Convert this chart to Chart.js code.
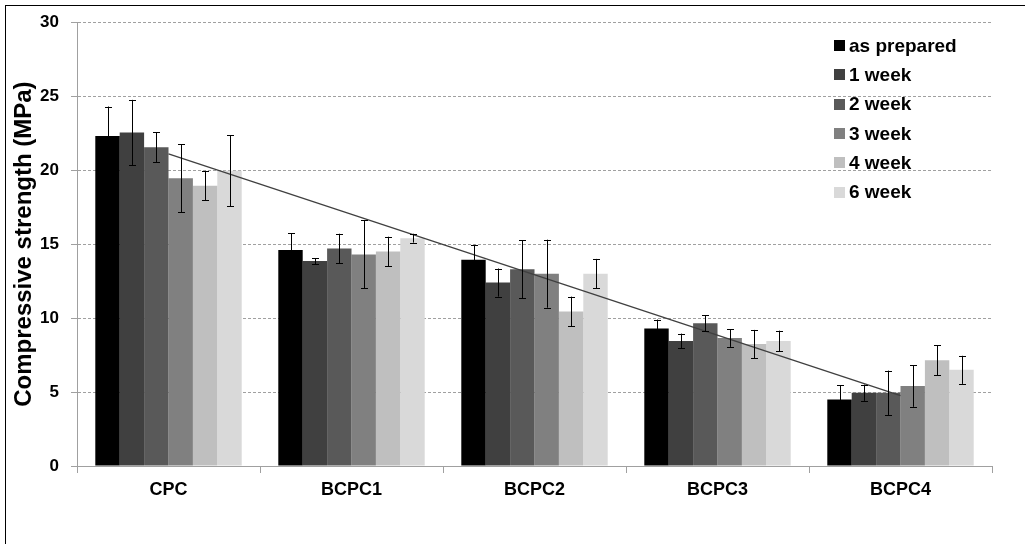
<!DOCTYPE html>
<html>
<head>
<meta charset="utf-8">
<script src="https://cdn.jsdelivr.net/npm/chart.js@4.4.1/dist/chart.umd.min.js"></script>
<style>
    body { margin: 0; background: #fff; }
    #wrap { position: relative; width: 1025px; height: 544px; overflow: hidden; }
    #frame { position: absolute; left: 5px; top: 5px; right: -2px; bottom: -2px;
             border-left: 1px solid #000; border-top: 1px solid #000; pointer-events: none; }
    #legend { position: absolute; left: 834px; top: 31px; font-family: 'Liberation Sans', Arial, sans-serif;
              font-weight: bold; font-size: 19px; color: #000; }
    .legend-item { display: flex; align-items: center; height: 29.3px; }
    .legend-color-box { width: 11px; height: 11px; margin-right: 4px; }
</style>
</head>
<body>
<div id="wrap">
    <canvas id="strengthChart" width="1025" height="544"></canvas>
    <div id="frame"></div>
    <div id="legend"></div>
</div>
<script>
const categories = ['CPC', 'BCPC1', 'BCPC2', 'BCPC3', 'BCPC4'];
const seriesNames = ['as prepared', '1 week', '2 week', '3 week', '4 week', '6 week'];
const seriesColors = ['#000000', '#404040', '#595959', '#808080', '#bfbfbf', '#d9d9d9'];

const asPrepared = [22.3, 14.6, 13.95, 9.3, 4.5];
const week1 = [22.55, 13.85, 12.4, 8.45, 4.95];
const week2 = [21.55, 14.7, 13.3, 9.65, 4.95];
const week3 = [19.45, 14.3, 13.0, 8.65, 5.4];
const week4 = [18.95, 14.5, 10.45, 8.25, 7.15];
const week6 = [19.95, 15.4, 13.0, 8.45, 6.5];

const errAsPrepared = [2.0, 1.15, 1.0, 0.6, 0.95];
const errWeek1 = [2.2, 0.2, 0.95, 0.5, 0.55];
const errWeek2 = [1.0, 1.0, 1.95, 0.55, 1.5];
const errWeek3 = [2.3, 2.3, 2.3, 0.6, 1.4];
const errWeek4 = [1.0, 1.0, 1.0, 0.95, 1.0];
const errWeek6 = [2.4, 0.3, 1.0, 0.7, 0.95];

// linear trend line, drawn from CPC to BCPC4
const trendLine = [21.1, null, null, null, 4.75];

const yTicks = [0, 5, 10, 15, 20, 25, 30];

const seriesValues = [asPrepared, week1, week2, week3, week4, week6];
const seriesErrors = [errAsPrepared, errWeek1, errWeek2, errWeek3, errWeek4, errWeek6];

Chart.defaults.font.family = "'Liberation Sans', Arial, sans-serif";
Chart.defaults.color = '#000';

// error bars drawn through the y scale
const errorBars = {
    id: 'errorBars',
    afterDatasetsDraw(chart) {
        const ctx = chart.ctx;
        const yScale = chart.scales.y;
        chart.data.datasets.forEach((ds, i) => {
            if (!ds.errors) return;
            const meta = chart.getDatasetMeta(i);
            meta.data.forEach((bar, j) => {
                const v = ds.data[j];
                const e = ds.errors[j];
                const yTop = yScale.getPixelForValue(v + e);
                const yBot = yScale.getPixelForValue(v - e);
                const x = Math.round(bar.x) + 0.5;
                ctx.save();
                ctx.strokeStyle = '#000';
                ctx.lineWidth = 1;
                ctx.beginPath();
                ctx.moveTo(x, yTop);
                ctx.lineTo(x, yBot);
                ctx.moveTo(x - 3.5, Math.round(yTop) + 0.5);
                ctx.lineTo(x + 3.5, Math.round(yTop) + 0.5);
                ctx.moveTo(x - 3.5, Math.round(yBot) + 0.5);
                ctx.lineTo(x + 3.5, Math.round(yBot) + 0.5);
                ctx.stroke();
                ctx.restore();
            });
        });
    }
};

const barDatasets = seriesNames.map((name, i) => ({
    type: 'bar',
    label: name,
    data: seriesValues[i],
    errors: seriesErrors[i],
    backgroundColor: seriesColors[i],
    borderWidth: 0,
    categoryPercentage: 0.8,
    barPercentage: 1.0,
    order: 1
}));

const strengthChart = new Chart(document.getElementById('strengthChart'), {
    type: 'bar',
    data: {
        labels: categories,
        datasets: [{
            type: 'line',
            label: 'trend',
            data: trendLine,
            borderColor: '#404040',
            borderWidth: 1.3,
            pointRadius: 0,
            spanGaps: true,
            fill: false,
            order: 0
        }].concat(barDatasets)
    },
    options: {
        responsive: false,
        animation: false,
        devicePixelRatio: 1,
        layout: { padding: { left: 0, top: 17, right: 33, bottom: 0 } },
        plugins: {
            legend: { display: false },
            tooltip: { enabled: false }
        },
        scales: {
            x: {
                grid: { offset: true, drawOnChartArea: false, drawTicks: true, tickLength: 7, color: '#a0a0a0' },
                border: { color: '#a0a0a0', width: 1 },
                ticks: { font: { size: 18, weight: 'bold' }, padding: 6 },
                afterFit(scale) { scale.height = 78; }
            },
            y: {
                min: 0,
                max: 30,
                afterBuildTicks(scale) { scale.ticks = yTicks.map(v => ({ value: v })); },
                grid: { color: '#a0a0a0', tickLength: 6, tickBorderDash: [], tickColor: '#a0a0a0' },
                border: { color: '#a0a0a0', width: 1, dash: [3, 2] },
                ticks: { font: { size: 17, weight: 'bold' }, padding: 12 },
                title: {
                    display: true,
                    text: 'Compressive strength (MPa)',
                    font: { size: 24, weight: 'bold' },
                    padding: { top: 10, bottom: 0 }
                },
                afterFit(scale) { scale.width = 77; }
            }
        }
    },
    plugins: [errorBars]
});

// custom legend
const legendContainer = document.getElementById('legend');
seriesNames.forEach((label, index) => {
    const legendItem = document.createElement('div');
    legendItem.className = 'legend-item';
    legendItem.innerHTML = `
        <div class="legend-color-box" style="background-color:${seriesColors[index]}"></div>
        <span>${label}</span>
    `;
    legendContainer.appendChild(legendItem);
});
</script>
</body>
</html>
